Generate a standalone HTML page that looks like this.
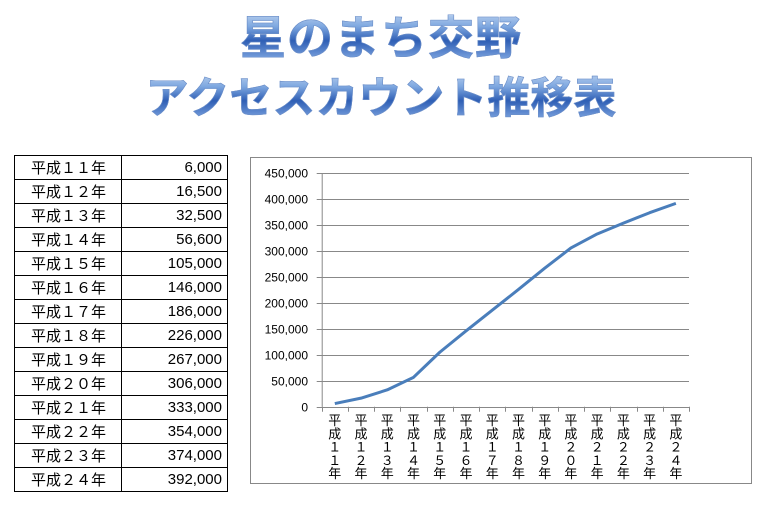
<!DOCTYPE html>
<html><head><meta charset="utf-8"><style>
body{margin:0;width:762px;height:506px;background:#fff;overflow:hidden;position:relative;font-family:"Liberation Sans","Noto Sans CJK JP",sans-serif}
.t{position:absolute;left:0;width:762px;text-align:center;font-family:"Noto Sans CJK JP",sans-serif;font-weight:700;
background:linear-gradient(#d6e4f6 0%,#7fa8e0 35%,#2f5fb5 60%,#8fb5ea 100%);-webkit-background-clip:text;background-clip:text;color:transparent;-webkit-text-stroke:0.6px #6d8fc8}
table{position:absolute;left:14px;top:155px;border-collapse:collapse;font-size:15px}
td{border:1px solid #000;height:23px;padding:0;line-height:23px}
td.a{width:90px;padding-left:16px;font-family:"Noto Sans CJK JP",sans-serif}
td.b{width:100px;text-align:right;padding-right:5px}
</style></head><body>
<div class="t" style="top:6px;font-size:46px;line-height:58px;letter-spacing:1px">星のまち交野</div>
<div class="t" style="top:66px;font-size:43px;line-height:58px">アクセスカウント推移表</div>
<table>
<tr><td class="a">平成１１年</td><td class="b">6,000</td></tr>
<tr><td class="a">平成１２年</td><td class="b">16,500</td></tr>
<tr><td class="a">平成１３年</td><td class="b">32,500</td></tr>
<tr><td class="a">平成１４年</td><td class="b">56,600</td></tr>
<tr><td class="a">平成１５年</td><td class="b">105,000</td></tr>
<tr><td class="a">平成１６年</td><td class="b">146,000</td></tr>
<tr><td class="a">平成１７年</td><td class="b">186,000</td></tr>
<tr><td class="a">平成１８年</td><td class="b">226,000</td></tr>
<tr><td class="a">平成１９年</td><td class="b">267,000</td></tr>
<tr><td class="a">平成２０年</td><td class="b">306,000</td></tr>
<tr><td class="a">平成２１年</td><td class="b">333,000</td></tr>
<tr><td class="a">平成２２年</td><td class="b">354,000</td></tr>
<tr><td class="a">平成２３年</td><td class="b">374,000</td></tr>
<tr><td class="a">平成２４年</td><td class="b">392,000</td></tr>
</table>
<svg style="position:absolute;left:0;top:0" width="762" height="506">
<rect x="250.5" y="157.5" width="501" height="326" fill="#fff" stroke="#888"/>
<g id="g" stroke="#888" stroke-width="1"></g>
<g id="yl" font-size="12" text-anchor="end" fill="#000"></g>
<g id="xl" font-size="13" text-anchor="middle" fill="#000" font-family="Noto Sans CJK JP,sans-serif"></g>
<polyline id="p" fill="none" stroke="#4a7ebb" stroke-width="3" stroke-linejoin="round"/>
</svg>
<script>
var L=321.7,R=689,T=173.3,B=406.7,n=14,w=(R-L)/n,ns="http://www.w3.org/2000/svg";
function el(t,a,p,tx){var e=document.createElementNS(ns,t);for(var k in a)e.setAttribute(k,a[k]);if(tx!=null)e.textContent=tx;document.getElementById(p).appendChild(e);}
for(var i=0;i<=9;i++){var y=Math.round(B-i*(B-T)/9)+.5;el("line",{x1:L-5,x2:R,y1:y,y2:y},"g");
el("text",{x:308,y:y+4},"yl",i==0?"0":(i*50)+",000");}
el("line",{x1:L+.5,x2:L+.5,y1:T,y2:B},"g");
var v=[6000,16500,32500,56600,105000,146000,186000,226000,267000,306000,333000,354000,374000,392000],pts=[];
var fw="０１２３４５６７８９";
for(var i=0;i<=n;i++){var x=Math.round(L+i*w)+.5;el("line",{x1:x,x2:x,y1:B,y2:B+5},"g");}
for(var i=0;i<n;i++){var cx=L+(i+.5)*w;pts.push(cx+","+(B-v[i]/450000*(B-T)));
var yr=String(11+i),ch=["平","成",fw[+yr[0]],fw[+yr[1]],"年"];
for(var j=0;j<5;j++)el("text",{x:cx,y:425+j*13.3},"xl",ch[j]);}
document.getElementById("p").setAttribute("points",pts.join(" "));
</script>
</body></html>
